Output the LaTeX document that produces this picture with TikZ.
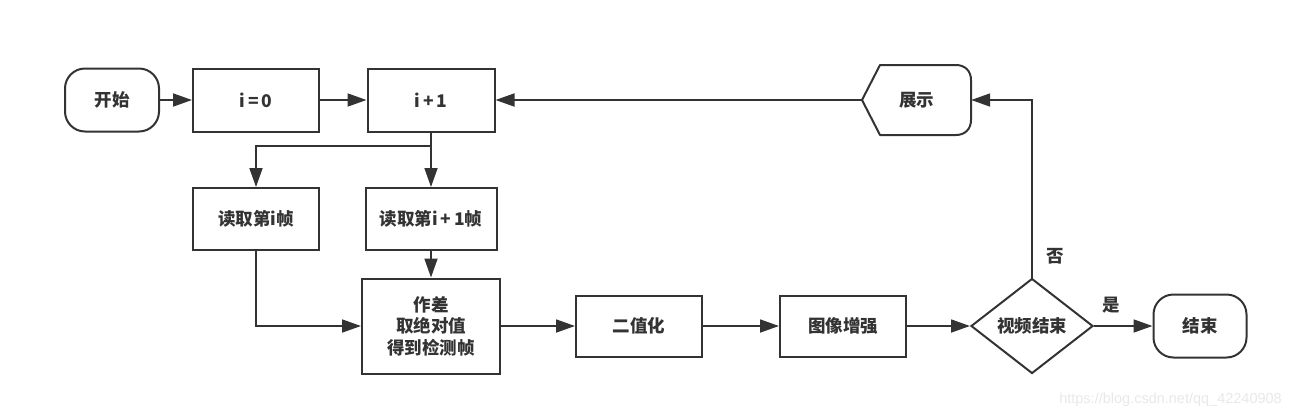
\documentclass[tikz,border=0pt]{standalone}
\usepackage{fontspec}
\setmainfont{Noto Sans CJK SC}
\newfontfamily\wmfont{Liberation Sans}
\usetikzlibrary{arrows.meta,shapes.geometric,calc}
\definecolor{ink}{HTML}{333333}
\definecolor{wm}{HTML}{E8E8E8}
\tikzset{
  box/.style={draw=ink, line width=2pt, rectangle, inner sep=0pt, text=ink,
    font=\fontsize{17.5}{21.5}\selectfont\bfseries, align=center},
  term/.style={box, rounded corners=20pt},
  decis/.style={draw=ink, line width=2pt, diamond, inner sep=0pt, text=ink,
    font=\fontsize{17.5}{21.5}\selectfont\bfseries, minimum width=122pt, minimum height=95pt},
  link/.style={draw=ink, line width=1.8pt, -{Triangle[length=19pt,width=13pt]}},
  lbl/.style={text=ink, font=\fontsize{17.5}{20}\selectfont\bfseries, inner sep=0pt}
}
\begin{document}
\begin{tikzpicture}[x=1pt,y=-1pt]
\useasboundingbox (0,0) rectangle (1291,418);
\node[term, minimum width=94pt, minimum height=63pt] (start) at (112,100) {开始};
\node[box, minimum width=126pt, minimum height=63pt] (i0) at (256,100) {i\,=\,0};
\node[box, minimum width=127pt, minimum height=63pt] (ip1) at (431,100) {i\,+\,1};
\node[box, minimum width=126pt, minimum height=62pt] (ri) at (256,219) {读取第i帧};
\node[box, minimum width=131pt, minimum height=62pt] (ri1) at (431,219) {读取第i\,+\,1帧};
\node[box, minimum width=138pt, minimum height=95pt] (diff) at (431,326) {作差\\取绝对值\\得到检测帧};
\node[box, minimum width=126pt, minimum height=61pt] (bin) at (639,326) {二值化};
\node[box, minimum width=126pt, minimum height=61pt] (enh) at (843,326) {图像增强};
\node[decis] (dec) at (1032,326) {视频结束};
\node[term, minimum width=93pt, minimum height=63pt] (end) at (1200,326) {结束};
% display shape
\node[lbl, minimum width=109pt, minimum height=70pt] (show) at (916.5,100) {展示};
\draw[draw=ink, line width=2pt, line join=round]
  (862,100) -- (880,65) -- (956,65) .. controls (965,65) and (971,71) .. (971,80)
  -- (971,120) .. controls (971,129) and (965,135) .. (956,135) -- (880,135) -- cycle;
\coordinate (j) at (431,146);
% connectors
\draw[link] (start) -- (i0);
\draw[link] (i0) -- (ip1);
\draw[draw=ink, line width=1.8pt] (ip1.south) -- (j);
\draw[link] (j) -| (ri.north);
\draw[link] (j) -- (ri1.north);
\draw[link] (ri.south) |- (diff.west);
\draw[link] (ri1.south) -- (diff.north);
\draw[link] (diff) -- (bin);
\draw[link] (bin) -- (enh);
\draw[link] (enh) -- (dec);
\draw[link] (dec) -- node[lbl, pos=0.3, above=12pt] {是} (end);
\draw[link] (dec.north) |- node[lbl, pos=0.06, right=14pt] {否} (show.east);
\draw[link] (show.west) -- (ip1.east);
\node[text=wm, font=\wmfont\fontsize{14.5}{16}\selectfont, inner sep=0pt, anchor=east] (wmark) at (1282,400) {https://blog.csdn.net/qq\_42240908};
\end{tikzpicture}
\end{document}
